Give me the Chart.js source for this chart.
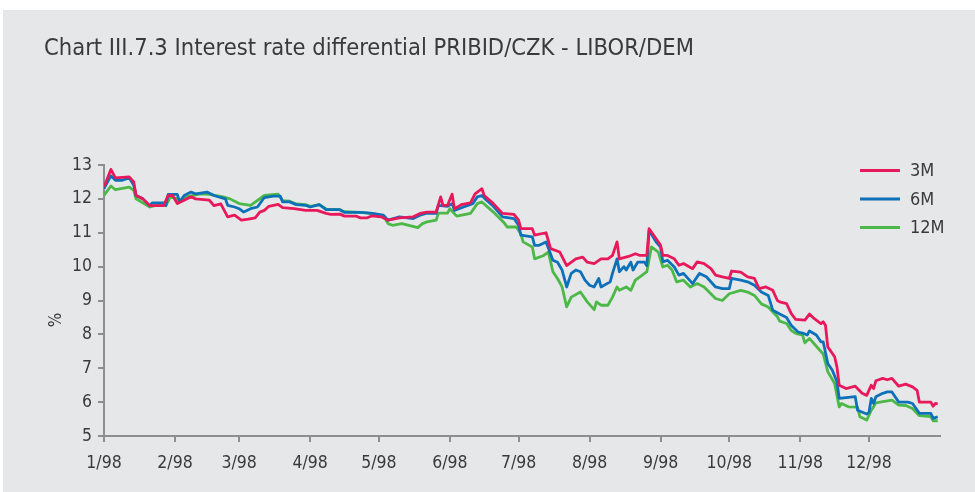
<!DOCTYPE html>
<html>
<head>
<meta charset="utf-8">
<script src="https://cdn.jsdelivr.net/npm/chart.js@4"></script>
<style>
  html, body { margin: 0; padding: 0; background: #fff; }
  #wrap { width: 975px; height: 492px; }
</style>
</head>
<body>
<div id="wrap"><canvas id="chart" width="975" height="492"></canvas></div>
<script>
// month starts in 1998 (day of year, 0 = 1 Jan) and their labels
const monthDays = [0, 31, 59, 90, 120, 151, 181, 212, 243, 273, 304, 334];
const monthLabels = ['1/98', '2/98', '3/98', '4/98', '5/98', '6/98', '7/98', '8/98', '9/98', '10/98', '11/98', '12/98'];

// 3M differential
const days3M = [0, 3, 5, 11, 13, 14, 17, 20, 26, 28, 30, 32, 35, 38, 40, 46, 48, 51, 54, 57, 60, 63, 66, 68, 70, 72, 76, 78, 83, 88, 93, 97, 99, 103, 105, 110, 112, 115, 117, 121, 124, 129, 135, 138, 141, 145, 147, 148, 150, 152, 153, 156, 160, 162, 165, 166, 170, 174, 179, 181, 182, 187, 188, 193, 195, 199, 202, 206, 209, 211, 214, 217, 220, 222, 224, 225, 229, 232, 234, 237, 238, 241, 243, 244, 246, 249, 251, 253, 257, 259, 262, 265, 267, 270, 273, 274, 278, 281, 284, 286, 289, 292, 294, 295, 298, 300, 302, 306, 308, 310, 313, 314, 315, 316, 319, 320, 321, 324, 328, 331, 333, 335, 336, 337, 340, 342, 344, 347, 350, 353, 355, 356, 361, 362, 363, 364];
const values3M = [12.35, 12.87, 12.62, 12.65, 12.5, 12.1, 12.0, 11.8, 11.8, 12.1, 12.1, 11.86, 11.96, 12.06, 12.0, 11.96, 11.8, 11.85, 11.47, 11.52, 11.37, 11.4, 11.44, 11.61, 11.66, 11.78, 11.84, 11.74, 11.71, 11.66, 11.66, 11.57, 11.54, 11.55, 11.49, 11.49, 11.44, 11.44, 11.5, 11.47, 11.37, 11.44, 11.47, 11.57, 11.61, 11.61, 12.06, 11.81, 11.81, 12.14, 11.71, 11.83, 11.88, 12.15, 12.3, 12.1, 11.86, 11.57, 11.54, 11.37, 11.12, 11.12, 10.93, 11.0, 10.53, 10.43, 10.03, 10.23, 10.28, 10.13, 10.09, 10.23, 10.23, 10.33, 10.73, 10.23, 10.3, 10.38, 10.33, 10.33, 11.12, 10.83, 10.63, 10.33, 10.33, 10.23, 10.04, 10.09, 9.94, 10.14, 10.09, 9.94, 9.75, 9.7, 9.65, 9.87, 9.84, 9.7, 9.65, 9.35, 9.4, 9.3, 9.0, 8.96, 8.91, 8.62, 8.44, 8.42, 8.6, 8.47, 8.32, 8.37, 8.27, 7.63, 7.34, 7.04, 6.5, 6.4, 6.47, 6.26, 6.2, 6.5, 6.4, 6.63, 6.7, 6.66, 6.7, 6.47, 6.53, 6.45, 6.35, 6.0, 6.0, 5.88, 5.96, 5.95];

// 6M differential
const days6M = [0, 3, 5, 8, 11, 13, 14, 17, 20, 21, 26, 27, 28, 32, 33, 35, 38, 40, 45, 48, 53, 54, 57, 59, 61, 64, 67, 70, 74, 77, 78, 81, 84, 88, 90, 94, 97, 103, 105, 112, 117, 122, 124, 129, 135, 138, 141, 145, 146, 150, 152, 153, 157, 161, 163, 165, 167, 170, 174, 179, 181, 182, 187, 188, 190, 193, 196, 198, 200, 202, 204, 206, 208, 210, 212, 214, 216, 217, 221, 222, 224, 225, 227, 228, 230, 231, 233, 236, 237, 238, 241, 243, 244, 246, 249, 251, 253, 257, 260, 263, 267, 270, 273, 274, 278, 281, 284, 287, 290, 292, 295, 298, 300, 303, 305, 307, 308, 311, 313, 314, 316, 318, 320, 321, 328, 329, 333, 334, 335, 336, 337, 340, 342, 344, 347, 351, 353, 356, 361, 362, 364];
const values6M = [12.3, 12.68, 12.55, 12.55, 12.62, 12.4, 12.1, 12.0, 11.8, 11.88, 11.88, 11.8, 12.13, 12.13, 11.91, 12.1, 12.2, 12.15, 12.2, 12.1, 12.0, 11.81, 11.76, 11.71, 11.61, 11.71, 11.76, 12.04, 12.08, 12.08, 11.91, 11.91, 11.83, 11.81, 11.76, 11.83, 11.68, 11.68, 11.6, 11.6, 11.57, 11.52, 11.37, 11.47, 11.42, 11.52, 11.58, 11.57, 11.81, 11.78, 11.86, 11.66, 11.76, 11.86, 12.06, 12.1, 11.96, 11.78, 11.47, 11.42, 11.22, 10.93, 10.88, 10.63, 10.63, 10.73, 10.19, 10.13, 9.9, 9.4, 9.8, 9.9, 9.85, 9.6, 9.45, 9.4, 9.65, 9.4, 9.55, 9.8, 10.23, 9.85, 10.0, 9.9, 10.13, 9.9, 10.13, 10.13, 10.03, 11.07, 10.73, 10.58, 10.14, 10.19, 9.99, 9.75, 9.8, 9.5, 9.8, 9.7, 9.4, 9.35, 9.35, 9.65, 9.6, 9.55, 9.45, 9.25, 9.15, 8.71, 8.6, 8.5, 8.27, 8.07, 8.04, 7.98, 8.1, 7.98, 7.78, 7.78, 7.14, 6.94, 6.6, 6.11, 6.16, 5.76, 5.65, 5.7, 6.11, 5.96, 6.16, 6.26, 6.3, 6.3, 6.0, 6.0, 5.96, 5.67, 5.67, 5.52, 5.57];

// 12M differential
const days12M = [0, 3, 5, 11, 13, 14, 20, 24, 27, 29, 32, 33, 36, 42, 46, 52, 55, 59, 64, 70, 76, 78, 81, 84, 88, 90, 94, 97, 103, 105, 112, 117, 122, 124, 126, 130, 137, 139, 141, 145, 146, 150, 151, 154, 160, 163, 165, 170, 175, 176, 180, 182, 183, 187, 188, 192, 194, 196, 198, 200, 202, 204, 208, 211, 214, 215, 217, 220, 222, 224, 225, 228, 230, 232, 235, 237, 239, 242, 244, 246, 248, 250, 253, 256, 259, 262, 267, 270, 273, 278, 281, 284, 287, 290, 294, 295, 298, 300, 302, 305, 306, 308, 311, 314, 316, 319, 321, 322, 325, 329, 330, 333, 335, 336, 337, 342, 344, 347, 350, 353, 356, 361, 362, 364];
const values12M = [12.1, 12.38, 12.27, 12.35, 12.25, 12.0, 11.76, 11.83, 11.8, 12.06, 12.0, 11.91, 12.06, 12.15, 12.13, 12.06, 12.0, 11.86, 11.81, 12.1, 12.14, 11.95, 11.93, 11.85, 11.83, 11.78, 11.83, 11.7, 11.68, 11.62, 11.6, 11.57, 11.5, 11.27, 11.22, 11.27, 11.15, 11.27, 11.32, 11.37, 11.58, 11.58, 11.71, 11.49, 11.57, 11.86, 11.91, 11.61, 11.27, 11.17, 11.17, 10.97, 10.73, 10.58, 10.23, 10.33, 10.43, 9.85, 9.65, 9.4, 8.81, 9.1, 9.25, 8.96, 8.73, 8.96, 8.86, 8.86, 9.1, 9.4, 9.3, 9.4, 9.3, 9.6, 9.75, 9.85, 10.58, 10.43, 9.99, 10.04, 9.9, 9.55, 9.6, 9.4, 9.5, 9.4, 9.06, 9.0, 9.2, 9.3, 9.25, 9.15, 8.9, 8.81, 8.52, 8.39, 8.32, 8.12, 8.03, 7.98, 7.75, 7.88, 7.65, 7.42, 6.9, 6.55, 5.86, 5.96, 5.86, 5.85, 5.57, 5.47, 5.76, 5.86, 5.98, 6.04, 6.06, 5.91, 5.9, 5.81, 5.6, 5.57, 5.45, 5.45];

const seriesNames = ['3M', '6M', '12M'];
const seriesColors = ['#e8195a', '#0d71b9', '#4cb847'];

const PANEL = '#e6e7e9';
const AXIS = '#8d8e90';
const INK = '#3a3a3a';
const FONT = '"Liberation Sans Narrow", "DejaVu Sans Condensed", sans-serif';

function toPoints(days, values) {
    return days.map((d, i) => ({ x: d, y: values[i] }));
}

// background panel, title, % label and legend drawn straight on the canvas
const decor = {
    id: 'decor',
    beforeDraw(chart) {
        const ctx = chart.ctx;
        ctx.save();
        ctx.fillStyle = '#ffffff';
        ctx.fillRect(0, 0, chart.width, chart.height);
        ctx.fillStyle = PANEL;
        ctx.fillRect(3, 10, chart.width - 3, chart.height - 10);
        ctx.restore();
    },
    afterDraw(chart) {
        const ctx = chart.ctx;
        ctx.save();
        ctx.fillStyle = INK;
        ctx.textBaseline = 'alphabetic';
        ctx.textAlign = 'left';
        ctx.font = '23.5px ' + FONT;
        ctx.fillText('Chart III.7.3 Interest rate differential PRIBID/CZK - LIBOR/DEM', 44, 55);

        // y axis unit
        ctx.translate(57, 320);
        ctx.rotate(-Math.PI / 2);
        ctx.textAlign = 'center';
        ctx.textBaseline = 'middle';
        ctx.font = '17px ' + FONT;
        ctx.fillText('%', 0, 0);
        ctx.restore();

        // legend
        ctx.save();
        ctx.font = '18px ' + FONT;
        ctx.textBaseline = 'middle';
        seriesNames.forEach((name, i) => {
            const y = 170.5 + i * 28.5;
            ctx.strokeStyle = seriesColors[i];
            ctx.lineWidth = 3;
            ctx.beginPath();
            ctx.moveTo(860, y);
            ctx.lineTo(900, y);
            ctx.stroke();
            ctx.fillStyle = INK;
            ctx.fillText(name, 910, y + 1);
        });
        ctx.restore();
    }
};

const lineStyle = {
    borderWidth: 2.8,
    pointRadius: 0,
    tension: 0,
    fill: false,
    borderJoinStyle: 'round'
};

new Chart(document.getElementById('chart').getContext('2d'), {
    type: 'line',
    data: {
        datasets: [
            Object.assign({ label: seriesNames[0], data: toPoints(days3M, values3M), borderColor: seriesColors[0] }, lineStyle),
            Object.assign({ label: seriesNames[1], data: toPoints(days6M, values6M), borderColor: seriesColors[1] }, lineStyle),
            Object.assign({ label: seriesNames[2], data: toPoints(days12M, values12M), borderColor: seriesColors[2] }, lineStyle)
        ]
    },
    options: {
        responsive: false,
        animation: false,
        layout: { padding: { left: 0, right: 35, top: 165, bottom: 0 } },
        plugins: {
            legend: { display: false },
            tooltip: { enabled: false }
        },
        scales: {
            x: {
                type: 'linear',
                min: 0,
                max: 365,
                afterBuildTicks: s => { s.ticks = monthDays.map(v => ({ value: v })); },
                afterFit: s => { s.height = 56; },
                ticks: {
                    autoSkip: false,
                    maxRotation: 0,
                    padding: 11,
                    color: INK,
                    font: { family: FONT, size: 17.5 },
                    callback: (v, i) => monthLabels[i]
                },
                grid: { drawOnChartArea: false, drawTicks: true, tickLength: 6, color: AXIS, lineWidth: 2 },
                border: { color: AXIS, width: 2 }
            },
            y: {
                min: 5,
                max: 13,
                afterFit: s => { s.width = 104; },
                ticks: {
                    stepSize: 1,
                    padding: 6,
                    color: INK,
                    font: { family: FONT, size: 17.5 }
                },
                grid: { drawOnChartArea: false, drawTicks: true, tickLength: 6, color: AXIS, lineWidth: 2 },
                border: { color: AXIS, width: 2 }
            }
        }
    },
    plugins: [decor]
});
</script>
</body>
</html>
